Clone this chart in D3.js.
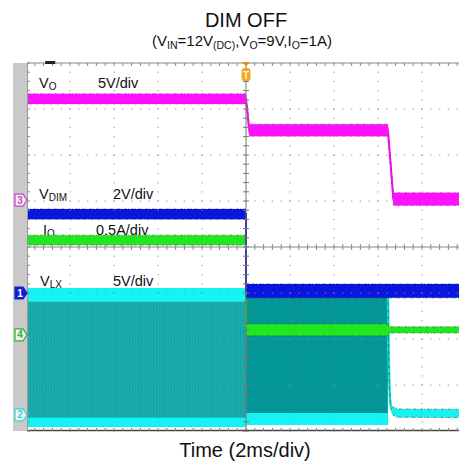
<!DOCTYPE html>
<html>
<head>
<meta charset="utf-8">
<script src="https://cdn.jsdelivr.net/npm/d3@7"></script>
<style>
body { margin: 0; background: #fff; }
svg { display: block; font-family: "Liberation Sans", Arial, sans-serif; }
</style>
</head>
<body>
<div id="chart"></div>
<script>
// time in ms relative to trigger (2ms/div), traces in their own channel units
var timeDomain = [-10, 10]
var divDomain = [-4, 4]

// channels: 3 = V_O, 1 = V_DIM, 4 = I_O, 2 = V_LX
var chNum = ["3", "1", "4", "2"]
var chGround = [1.02, -1.0, -1.91, -3.65]   // ground marker, in divisions
var chPerDiv = [5, 2, 0.5, 5]

// V_O (V)
var voT = [-10, 0, 0.15, 6.45, 6.7, 10]
var voV = [11.0, 11.0, 7.6, 7.6, 0.1, 0.1]
var voNoise = [0.55, 0.55, 0.65, 0.65, 0.7, 0.7]

// V_DIM (V)
var dimT = [-10, 0, 0, 10]
var dimV = [3.43, 3.43, 0.09, 0.09]
var dimNoise = [0.22, 0.22, 0.3, 0.3]

// I_O (A)
var ioT = [-10, 0, 0, 6.45, 6.5, 10]
var ioV = [1.03, 1.03, 0.054, 0.054, 0.054, 0.054]
var ioNoise = [0.054, 0.054, 0.065, 0.065, 0.035, 0.035]

// V_LX (V) switching envelope
var lxT = [-10, 0, 0, 6.45]
var lxHi = [13.8, 13.8, 13.8, 13.8]
var lxTopIn = [12.3, 12.3, 13.8, 13.8]
var lxBotIn = [-0.3, -0.3, 0.2, 0.2]
var lxLo = [-1.3, -1.3, -1.1, -1.1]
var lxTailT = [6.45, 6.5, 6.58, 6.7, 6.9, 10]
var lxTailV = [13.8, 5.0, 1.0, 0.4, 0.2, 0.16]
var lxTailNoise = [0, 0.1, 0.3, 0.45, 0.45, 0.45]

var labelMain = ["V", "V", "I", "V"]
var labelSub = ["O", "DIM", "O", "LX"]
var labelScale = ["5V/div", "2V/div", "0.5A/div", "5V/div"]

function draw() {
	var width = 459
	var height = 464
	var pLeft = 27, pTop = 63, pBottom = 431

	var svg = d3.select("#chart").append("svg")
		.attr("width", width)
		.attr("height", height)

	var x = d3.scaleLinear().domain(timeDomain).range([26, 466])
	var y = d3.scaleLinear().domain(divDomain).range([pBottom, pTop])

	function yOf(ch, v) { return y(chGround[ch] + v / chPerDiv[ch]) }

	var defs = svg.append("defs")
	defs.append("clipPath").attr("id", "plotclip")
		.append("rect").attr("x", pLeft).attr("y", pTop - 1).attr("width", width - pLeft).attr("height", pBottom - pTop + 2)

	var pat = defs.append("pattern").attr("id", "stripes")
		.attr("width", 3).attr("height", 10).attr("patternUnits", "userSpaceOnUse")
	pat.append("rect").attr("width", 3).attr("height", 10).attr("fill", "#1aacac")
	pat.append("rect").attr("width", 1).attr("height", 10).attr("fill", "#15a4a4")

	// left strip
	svg.append("rect").attr("x", 13).attr("y", pTop).attr("width", pLeft - 13).attr("height", pBottom - pTop).attr("fill", "#c9c9c9")

	var plot = svg.append("g").attr("clip-path", "url(#plotclip)")

	// labels (under traces)
	var labY = [88, 199, 235, 286]
	var labX = [39, 39, 43, 40]
	var scX = [98, 113, 96, 113]
	labelMain.forEach(function (m, i) {
		var t = plot.append("text").attr("x", labX[i]).attr("y", labY[i]).attr("font-size", 14.5).attr("fill", "#111")
		t.append("tspan").text(m)
		t.append("tspan").attr("font-size", 10).attr("dy", 2).text(labelSub[i])
		plot.append("text").attr("x", scX[i]).attr("y", labY[i]).attr("font-size", 14.5).attr("fill", "#111").text(labelScale[i])
	})

	// V_LX
	var lx = lxT.map(function (t, i) { return { t: t, hi: lxHi[i], ti: lxTopIn[i], bi: lxBotIn[i], lo: lxLo[i] } })
	var before = lx.filter(function (d, i) { return i < 2 })
	var after = lx.filter(function (d, i) { return i >= 2 })
	var lxArea = function (a, b) {
		return d3.area().x(function (d) { return x(d.t) })
			.y0(function (d) { return yOf(3, d[a]) }).y1(function (d) { return yOf(3, d[b]) })
	}
	plot.append("path").datum(before).attr("d", lxArea("lo", "hi")).attr("fill", "url(#stripes)")
	plot.append("path").datum(after).attr("d", lxArea("lo", "hi")).attr("fill", "#039797")
	plot.append("path").datum(lx).attr("d", lxArea("ti", "hi")).attr("fill", "#14f4f4")
	plot.append("path").datum(lx).attr("d", lxArea("lo", "bi")).attr("fill", "#14f4f4")
	plot.append("line").attr("x1", x(0)).attr("x2", x(6.45)).attr("y1", yOf(3, -1.25)).attr("y2", yOf(3, -1.25))
		.attr("stroke", "#e8ffff").attr("stroke-width", 1.5).attr("stroke-dasharray", "2,2")
	var tail = lxTailT.map(function (t, i) { return { t: t, v: lxTailV[i], n: lxTailNoise[i] } })
	var tailLine = d3.line().x(function (d) { return x(d.t) }).y(function (d) { return yOf(3, d.v) }).curve(d3.curveMonotoneX)
	var tailArea = d3.area().x(function (d) { return x(d.t) }).curve(d3.curveMonotoneX)
		.y0(function (d) { return yOf(3, d.v - d.n) }).y1(function (d) { return yOf(3, d.v + d.n) })
	plot.append("path").datum(tail).attr("d", tailLine).attr("fill", "none").attr("stroke", "#16f2f2").attr("stroke-width", 2.5)
	plot.append("path").datum(tail).attr("d", tailArea).attr("fill", "#16f2f2")
		.attr("stroke", "#1f6f6f").attr("stroke-width", 1).attr("stroke-opacity", 0.7).attr("stroke-dasharray", "3,1,1,2")

	// noisy bands
	function band(ch, ts, vs, ns, fill, edge) {
		var data = ts.map(function (t, i) { return { t: t, v: vs[i], n: ns[i] } })
		var area = d3.area().x(function (d) { return x(d.t) })
			.y0(function (d) { return yOf(ch, d.v - d.n) }).y1(function (d) { return yOf(ch, d.v + d.n) })
		var line = d3.line().x(function (d) { return x(d.t) }).y(function (d) { return yOf(ch, d.v) })
		plot.append("path").datum(data).attr("d", line).attr("fill", "none").attr("stroke", fill).attr("stroke-width", 2)
		plot.append("path").datum(data).attr("d", area).attr("fill", fill)
			.attr("stroke", edge).attr("stroke-width", 1).attr("stroke-opacity", 0.55).attr("stroke-dasharray", "3,1,1,2")
	}
	band(2, ioT, ioV, ioNoise, "#22e622", "#0f7a0f")
	band(1, dimT, dimV, dimNoise, "#0a16e0", "#000a70")
	band(0, voT, voV, voNoise, "#ff10ff", "#a0209a")

	// grid
	var g = svg.append("g").attr("clip-path", "url(#plotclip)")
	var xDiv = d3.range(-10, 12, 2)
	var yDiv = d3.range(-4, 5, 1)
	var xSub = d3.range(-10, 10.01, 0.4)
	var ySub = d3.range(-4, 4.01, 0.2)
	xDiv.filter(function (t) { return t !== 0 && t > -10 }).forEach(function (t) {
		g.selectAll(null).data(ySub).enter().append("rect")
			.attr("x", x(t) - 0.5).attr("y", function (d) { return y(d) - 0.5 })
			.attr("width", 1.2).attr("height", 1.2).attr("fill", "#8a8a8a").attr("opacity", 0.8)
	})
	yDiv.filter(function (d) { return d !== 0 && d > -4 && d < 4 }).forEach(function (d) {
		g.selectAll(null).data(xSub).enter().append("rect")
			.attr("x", function (t) { return x(t) - 0.5 }).attr("y", y(d) - 0.5)
			.attr("width", 1.2).attr("height", 1.2).attr("fill", "#8a8a8a").attr("opacity", 0.8)
	})
	// center cross with ticks
	g.append("line").attr("x1", x(0)).attr("x2", x(0)).attr("y1", pTop).attr("y2", pBottom).attr("stroke", "#777").attr("stroke-width", 1)
	g.append("line").attr("x1", pLeft).attr("x2", width).attr("y1", y(0)).attr("y2", y(0)).attr("stroke", "#888").attr("stroke-width", 1)
	g.selectAll(null).data(ySub).enter().append("line")
		.attr("x1", x(0) - 3).attr("x2", x(0) + 3).attr("y1", function (d) { return y(d) }).attr("y2", function (d) { return y(d) })
		.attr("stroke", "#777")
	g.selectAll(null).data(xSub).enter().append("line")
		.attr("y1", y(0) - 3).attr("y2", y(0) + 3).attr("x1", function (t) { return x(t) }).attr("x2", function (t) { return x(t) })
		.attr("stroke", "#888")
	// borders
	g.append("line").attr("x1", pLeft).attr("x2", width).attr("y1", pTop).attr("y2", pTop).attr("stroke", "#888")
	g.selectAll(null).data(xSub).enter().append("line")
		.attr("y1", pTop).attr("y2", pTop + 3).attr("x1", function (t) { return x(t) }).attr("x2", function (t) { return x(t) })
		.attr("stroke", "#888")
	g.append("line").attr("x1", pLeft).attr("x2", width).attr("y1", pBottom - 0.5).attr("y2", pBottom - 0.5).attr("stroke", "#444").attr("stroke-width", 1.5)
	g.selectAll(null).data(xSub).enter().append("line")
		.attr("y1", pBottom - 3).attr("y2", pBottom).attr("x1", function (t) { return x(t) }).attr("x2", function (t) { return x(t) })
		.attr("stroke", "#777")
	g.selectAll(null).data(ySub).enter().append("line")
		.attr("x1", pLeft).attr("x2", pLeft + 3).attr("y1", function (d) { return y(d) }).attr("y2", function (d) { return y(d) })
		.attr("stroke", "#888")
	svg.append("line").attr("x1", pLeft + 0.5).attr("x2", pLeft + 0.5).attr("y1", pTop).attr("y2", pBottom).attr("stroke", "#999")

	// position mark and trigger marker
	svg.append("rect").attr("x", x(-8.9) - 5).attr("y", pTop - 2).attr("width", 10).attr("height", 3).attr("fill", "#222")
	svg.append("path").attr("d", "M" + (x(0) - 3.5) + "," + (pTop - 1) + "h7l-3.5,4.5z").attr("fill", "#f08a00")
	svg.append("rect").attr("x", x(0) - 4.5).attr("y", pTop + 5).attr("width", 9).attr("height", 13).attr("rx", 3).attr("fill", "#f5a623")
	svg.append("text").attr("x", x(0)).attr("y", pTop + 15.5).attr("text-anchor", "middle").attr("font-size", 10).attr("font-weight", "bold").attr("fill", "#fff3dc").text("T")

	// channel ground tags
	var chColor = ["#d040d0", "#1020d0", "#30b030", "#30d8e0"]
	chNum.forEach(function (n, i) {
		var cy = y(chGround[i])
		var solid = n === "1"
		svg.append("path").attr("d", "M15," + (cy - 6) + "h8l4,6l-4,6h-8z")
			.attr("fill", solid ? chColor[i] : "#f4f4f4").attr("stroke", chColor[i]).attr("stroke-width", 1.2)
		svg.append("text").attr("x", 20).attr("y", cy + 3.5).attr("text-anchor", "middle").attr("font-size", 10)
			.attr("font-weight", "bold").attr("fill", solid ? "#fff" : chColor[i]).text(n)
	})

	// titles
	svg.append("text").attr("x", 246).attr("y", 26.5).attr("text-anchor", "middle").attr("font-size", 20).attr("fill", "#111").text("DIM OFF")
	var sub = svg.append("text").attr("x", 242).attr("y", 46).attr("text-anchor", "middle").attr("font-size", 15).attr("fill", "#111")
	var parts = [["(V", 0], ["IN", 1], ["=12V", 0], ["(DC)", 1], [",V", 0], ["O", 1], ["=9V,I", 0], ["O", 1], ["=1A)", 0]]
	var prev = 0
	parts.forEach(function (p) {
		var s = p[1] ? 3 : 0
		sub.append("tspan").attr("dy", s - prev).attr("font-size", p[1] ? 10.5 : 15).text(p[0])
		prev = s
	})
	svg.append("text").attr("x", 245).attr("y", 457).attr("text-anchor", "middle").attr("font-size", 20).attr("fill", "#111").text("Time (2ms/div)")
}

draw()
</script>
</body>
</html>
